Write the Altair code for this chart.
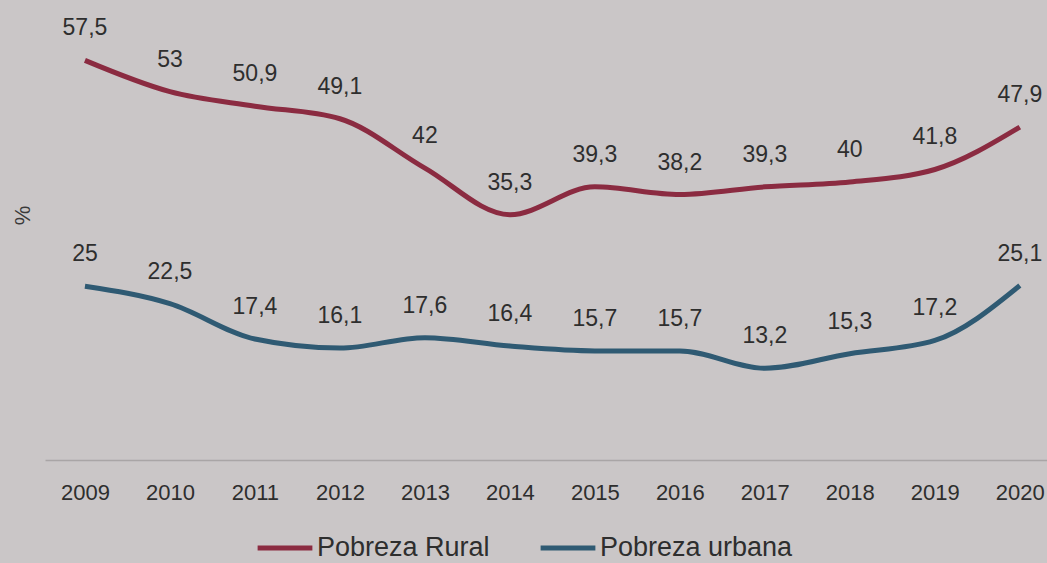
import altair as alt
import pandas as pd

years = [2009, 2010, 2011, 2012, 2013, 2014, 2015, 2016, 2017, 2018, 2019, 2020]
rural = [57.5, 53, 50.9, 49.1, 42, 35.3, 39.3, 38.2, 39.3, 40, 41.8, 47.9]
urbana = [25, 22.5, 17.4, 16.1, 17.6, 16.4, 15.7, 15.7, 13.2, 15.3, 17.2, 25.1]
series = ["Pobreza Rural", "Pobreza urbana"]
colors = ["#8b2b41", "#2f5a73"]


def fmt(v):
    s = ("%g" % v)
    return s.replace(".", ",")


rows = []
for y, v in zip(years, rural):
    rows.append({"year": y, "value": v, "serie": series[0], "label": fmt(v)})
for y, v in zip(years, urbana):
    rows.append({"year": y, "value": v, "serie": series[1], "label": fmt(v)})
df = pd.DataFrame(rows)

FONT = "Liberation Sans"

x = alt.X(
    "year:Q",
    scale=alt.Scale(domain=[2008.53, 2020.32], nice=False, zero=False),
    axis=alt.Axis(
        values=years, format="d", title=None, grid=False, ticks=False,
        labelFontSize=22, labelColor="#2e2e2e", labelPadding=22, labelFont=FONT,
        domainColor="#a9a5a6", domainWidth=1.5, labelFlush=False,
    ),
)
y = alt.Y(
    "value:Q",
    scale=alt.Scale(domain=[0, 60], nice=False),
    axis=alt.Axis(
        title="%", labels=False, ticks=False, domain=False, grid=False,
        titleFontSize=22, titleFontWeight="normal", titleColor="#3a3a3a",
        titleX=-23, titleY=172, titleFont=FONT, titleBaseline="middle",
    ),
)

lines = alt.Chart(df).mark_line(interpolate="monotone", strokeWidth=5).encode(
    x=x,
    y=y,
    color=alt.Color(
        "serie:N",
        scale=alt.Scale(domain=series, range=colors),
        legend=alt.Legend(
            title=None, orient="none", direction="horizontal",
            legendX=210, legendY=475,
            symbolType="stroke", symbolStrokeWidth=5, symbolSize=3000,
            labelFontSize=27, labelFont=FONT, labelColor="#2e2e2e",
            labelOffset=2, columnPadding=40, labelLimit=400,
        ),
    ),
)

labels = alt.Chart(df).mark_text(
    dy=-32, fontSize=23, font=FONT, color="#2e2e2e", baseline="middle", clip=False
).encode(x=x, y=y, text="label:N")

chart = (
    alt.layer(lines, labels)
    .properties(
        width=1002, height=417,
        autosize=alt.AutoSizeParams(type="none"),
        padding={"left": 45, "top": 43, "right": 0, "bottom": 103},
        background="#cac6c7",
    )
    .configure_view(stroke=None)
)

chart.save("out.html", embed_options={"renderer": "svg", "actions": False})
